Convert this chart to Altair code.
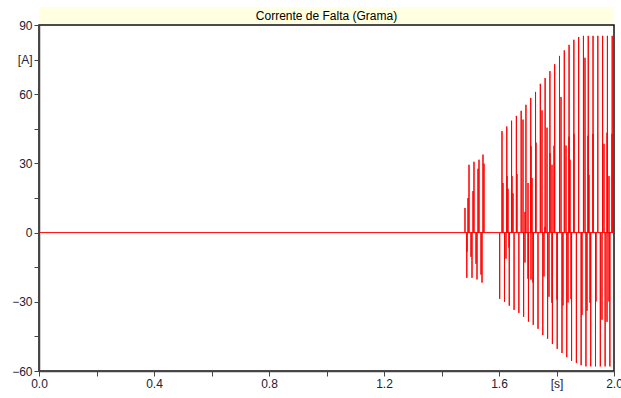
import altair as alt
import pandas as pd

# main positive peaks (one per cycle)
main_pos_t = [1.6104, 1.6271, 1.6437, 1.6604, 1.6771, 1.6937, 1.7104, 1.7271, 1.7437, 1.7604,
              1.7771, 1.7937, 1.8104, 1.8271, 1.8437, 1.8604, 1.8771, 1.8937, 1.9104, 1.9271,
              1.9437, 1.9604, 1.9771, 1.9937]
main_pos_v = [44, 46, 48.5, 50.6, 52.8, 55.4, 58.4, 61, 64.5, 67,
              70, 73, 76.6, 79, 81.4, 83.6, 84.8, 85.3, 85.3, 85.3,
              85.3, 85.3, 85.3, 85.3]
# main negative peaks
main_neg_t = [1.6024, 1.6191, 1.6357, 1.6524, 1.6691, 1.6857, 1.7024, 1.7191, 1.7357, 1.7524,
              1.7691, 1.7857, 1.8024, 1.8191, 1.8357, 1.8524, 1.8691, 1.8857, 1.9024, 1.9191,
              1.9357, 1.9524, 1.9691, 1.9857]
main_neg_v = [-28.7, -30, -31.7, -33.5, -34.8, -36.5, -38.6, -40, -41.7, -44.4,
              -46, -48.3, -50.4, -52.2, -54, -55.6, -56.5, -57.5, -58, -58,
              -58, -58, -58, -58]
# secondary positive spikes
sec_pos_t = [1.6139, 1.6278, 1.6313, 1.6452, 1.6487, 1.6626, 1.6835, 1.6904, 1.7009, 1.7113,
             1.7148, 1.7287, 1.7496, 1.7600, 1.7670, 1.7774, 1.7843, 1.7913, 1.8157, 1.8330,
             1.8435, 1.8470, 1.8609, 1.8991, 1.9096, 1.9130, 1.9270, 1.9652, 1.9757, 1.9826,
             1.9930]
sec_pos_v = [21.5, 24.5, 19, 24.5, 17, 25.4, 49, 9, 21.5, 37.5,
             23.7, 39, 53, 2.5, 45.5, 34.5, 29.4, 37.7, 58.8, 37.8,
             41.6, 31.6, 42.8, 75.8, 42, 25, 42.8, 38.5, 43.3, 24.5,
             42.8]
# secondary negative spikes
sec_neg_t = [1.6243, 1.6348, 1.6904, 1.7009, 1.7113, 1.7183, 1.7565, 1.7739, 1.7843, 1.8017,
             1.8226, 1.8400, 1.8504, 1.8887, 1.9061, 1.9165, 1.9374, 1.9583, 1.9757, 1.9826]
sec_neg_v = [-11.3, -6.5, -13, -20, -20.4, -21.7, -19, -27.8, -30.4, -29,
             -31.6, -30.3, -28.8, -35.7, -33.9, -30.4, -29.9, -37.8, -38.7, -29.9]
# first short burst
burst_t = [1.4817, 1.4880, 1.4887, 1.4922, 1.4957, 1.5026, 1.5061, 1.5096, 1.5130, 1.5200,
           1.5235, 1.5270, 1.5304, 1.5374, 1.5409, 1.5443, 1.5478]
burst_v = [10.7, -19.6, -8.3, 15, 29.4, -10.5, -19.6, 18, 30.7, -13.5,
           -20.3, 27.7, 31.6, -18.2, -21.7, 33.8, 29.9]

x_ticks = [0.0, 0.2, 0.4, 0.6, 0.8, 1.0, 1.2, 1.4, 1.6, 1.8, 2.0]
y_ticks = [-60, -45, -30, -15, 0, 15, 30, 45, 60, 75, 90]
title_text = "Corrente de Falta (Grama)"

all_t = main_pos_t + main_neg_t + sec_pos_t + sec_neg_t + burst_t
all_v = main_pos_v + main_neg_v + sec_pos_v + sec_neg_v + burst_v
spikes = sorted(zip(all_t, all_v), key=lambda p: p[0])

rows = [{"t": 0.0, "v": 0.0, "o": 0}]
o = 1
for t, v in spikes:
    for val in (0.0, v, 0.0):
        rows.append({"t": t, "v": val, "o": o})
        o += 1
rows.append({"t": 2.0, "v": 0.0, "o": o})
df = pd.DataFrame(rows)

W, H = 575, 346
FONT = "Liberation Sans"

line = alt.Chart(df).mark_line(color="#ff0000", strokeWidth=1, clip=True).encode(
    x=alt.X("t:Q", scale=alt.Scale(domain=[0, 2], nice=False, zero=False),
            axis=alt.Axis(values=x_ticks, title=None, grid=False, labelFlush=False,
                          labelExpr="abs(datum.value-1.8)<0.01 ? '[s]' : (abs(datum.value*10 - 4*round(datum.value*10/4))<0.01 ? format(datum.value,'.1f') : '')")),
    y=alt.Y("v:Q", scale=alt.Scale(domain=[-60, 90], nice=False, zero=False),
            axis=alt.Axis(values=y_ticks, title=None, grid=False, labelFlush=False,
                          labelExpr="datum.value==75 ? '[A]' : (datum.value%30==0 ? datum.label : '')")),
    order="o:Q",
)

band = alt.Chart(pd.DataFrame({"a": [0]})).mark_rect(color="#FFFFE1").encode(
    x=alt.value(0), x2=alt.value(W), y=alt.value(-18), y2=alt.value(-1)
)
text = alt.Chart(pd.DataFrame({"a": [0]})).mark_text(
    text=title_text, font=FONT, fontSize=12, color="#000000", baseline="middle", align="center"
).encode(x=alt.value(W / 2), y=alt.value(-9))

chart = alt.layer(band, text, line).properties(
    width=W, height=H,
    padding={"left": 39, "top": 25, "right": 7, "bottom": 27},
    autosize=alt.AutoSizeParams(type="none"),
).configure_view(stroke="#111111", strokeWidth=1.5).configure_axis(
    domainColor="#444444", tickColor="#444444", labelColor="#222233",
    labelFont=FONT, labelFontSize=12, tickSize=5, labelPadding=2, domainWidth=1.5,
    labelBound=False,
)

chart.save("out.html", embed_options={"renderer": "svg", "actions": False})
